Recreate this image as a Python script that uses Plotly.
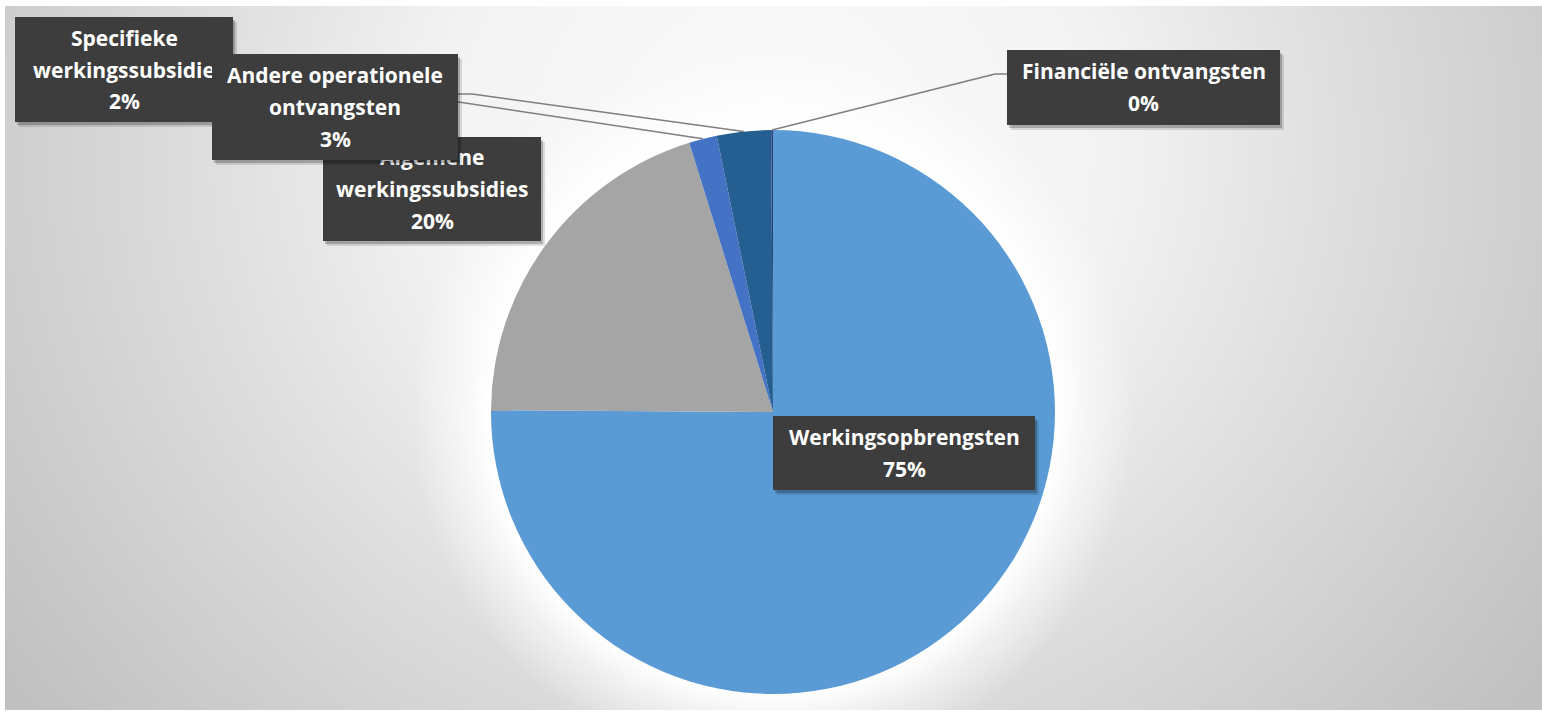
import math, base64
import plotly.graph_objects as go

# ---- data ----
categories = ["Werkingsopbrengsten", "Algemene werkingssubsidies", "Specifieke werkingssubsidie",
              "Andere operationele ontvangsten", "Financiële ontvangsten"]
values = [75.1, 20.1, 1.6, 3.1, 0.1]
label_lines = [["Werkingsopbrengsten", "75%"],
               ["Algemene", "werkingssubsidies", "20%"],
               ["Specifieke", "werkingssubsidie", "2%"],
               ["Andere operationele", "ontvangsten", "3%"],
               ["Financiële ontvangsten", "0%"]]
colors = ["#5B9BD5", "#A5A5A5", "#4472C4", "#255E91", "#264478"]

# ---- layout geometry (pixels) ----
W, H = 1542, 713
ML, MR, MT, MB = 5, 0, 6, 3
PW, PH = W - ML - MR, H - MT - MB
CX, CY, R = 773, 412, 282

def px(x):
    return (x - ML) / PW

def py(y):
    return 1 - (y - MT) / PH

fig = go.Figure(go.Pie(
    labels=categories, values=values, sort=False, direction="clockwise", rotation=0,
    marker=dict(colors=colors, line=dict(width=0)), textinfo="none", hoverinfo="label+percent",
    domain=dict(x=[px(CX - R), px(CX + R)], y=[py(CY + R), py(CY - R)]),
    showlegend=False,
))

# slice mid-angle points on the rim, derived from the values
total = sum(values)
cum = 0
rim = []
for v in values:
    mid = (cum + v / 2) / total * 2 * math.pi
    rim.append((CX + R * math.sin(mid), CY - R * math.cos(mid)))
    cum += v

# background: elliptical grey gradient + white glow around the pie
gx, gy, rx, ry = CX - ML, 150 - MT, 950, 900
pcx, pcy = CX - ML, CY - MT
svg = f'''<svg xmlns="http://www.w3.org/2000/svg" width="{PW}" height="{PH}" viewBox="0 0 {PW} {PH}" preserveAspectRatio="none">
<defs>
<radialGradient id="g" gradientUnits="userSpaceOnUse" cx="{gx}" cy="{gy}" r="{rx}"
 gradientTransform="translate({gx},{gy}) scale(1,{ry/rx:.4f}) translate({-gx},{-gy})">
<stop offset="0" stop-color="#fbfbfb"/>
<stop offset="0.35" stop-color="#f3f3f3"/>
<stop offset="0.6" stop-color="#dedede"/>
<stop offset="0.85" stop-color="#cbcbcb"/>
<stop offset="1" stop-color="#c0c0c0"/>
</radialGradient>
<radialGradient id="w" gradientUnits="userSpaceOnUse" cx="{pcx}" cy="{pcy}" r="{R+80}">
<stop offset="0" stop-color="#ffffff" stop-opacity="1"/>
<stop offset="{R/(R+80):.3f}" stop-color="#ffffff" stop-opacity="1"/>
<stop offset="{(R+30)/(R+80):.3f}" stop-color="#ffffff" stop-opacity="0.55"/>
<stop offset="1" stop-color="#ffffff" stop-opacity="0"/>
</radialGradient>
</defs>
<rect x="0" y="0" width="{PW}" height="{PH}" fill="url(#g)"/>
<rect x="0" y="0" width="{PW}" height="{PH}" fill="url(#w)"/></svg>'''
src = "data:image/svg+xml;base64," + base64.b64encode(svg.encode()).decode()

# label boxes: (x0, y0, x1, y1) in pixels, drawing order matters
boxes = {
    0: (773, 416, 1035, 490),
    4: (1007, 50, 1280, 125),
    2: (15, 17, 233, 122),
    1: (323, 137, 541, 241),
    3: (212, 54, 458, 160),
}
order = [0, 4, 2, 1, 3]
LINE = 32
FONT = dict(family="'Open Sans', Lato, sans-serif", size=21, color="white", weight="bold")

annotations = []
for i in order:
    x0, y0, x1, y1 = boxes[i]
    for (dx, dy, a) in [(4, 5, 0.12), (2, 3, 0.22)]:
        annotations.append(dict(x=px(x0 + dx), y=py(y0 + dy), xref="paper", yref="paper",
                                xanchor="left", yanchor="top", text=" ", showarrow=False,
                                width=x1 - x0, height=y1 - y0, bgcolor=f"rgba(0,0,0,{a})",
                                borderpad=0, borderwidth=0))
    annotations.append(dict(x=px(x0), y=py(y0), xref="paper", yref="paper",
                            xanchor="left", yanchor="top", text=" ", showarrow=False,
                            width=x1 - x0, height=y1 - y0, bgcolor="#3d3d3d",
                            borderpad=0, borderwidth=0))
    lines = label_lines[i]
    n = len(lines)
    cyb = (y0 + y1) / 2
    for k, t in enumerate(lines):
        yy = cyb + (k - (n - 1) / 2) * LINE
        annotations.append(dict(x=px((x0 + x1) / 2), y=py(yy), xref="paper", yref="paper",
                                xanchor="center", yanchor="middle", text=t, showarrow=False,
                                font=FONT, borderpad=0))

# leader lines (start at label box, end at slice rim midpoint)
LC = dict(color="#7f7f7f", width=1.5)
shapes = []
def seg(a, b):
    shapes.append(dict(type="line", xref="paper", yref="paper", x0=px(a[0]), y0=py(a[1]),
                       x1=px(b[0]), y1=py(b[1]), line=LC, layer="above"))

# Specifieke (index 2)
bx = boxes[2]
seg((bx[2], 68), rim[2])
# Andere (index 3)
bx = boxes[3]
seg((bx[2], bx[1] + 40), (bx[2] + 14, bx[1] + 40))
seg((bx[2] + 14, bx[1] + 40), rim[3])
# Financiele (index 4)
bx = boxes[4]
seg((bx[0], bx[1] + 24), (bx[0] - 12, bx[1] + 24))
seg((bx[0] - 12, bx[1] + 24), rim[4])

fig.update_layout(
    width=W, height=H,
    margin=dict(l=ML, r=MR, t=MT, b=MB),
    paper_bgcolor="white", plot_bgcolor="white",
    images=[dict(source=src, xref="paper", yref="paper", x=0, y=1, sizex=1, sizey=1,
                 xanchor="left", yanchor="top", sizing="stretch", layer="below")],
    annotations=annotations, shapes=shapes,
)
fig.write_html("out.html", config={"displayModeBar": False},
               post_script="document.body.style.margin='0';document.body.style.overflow='hidden';")
